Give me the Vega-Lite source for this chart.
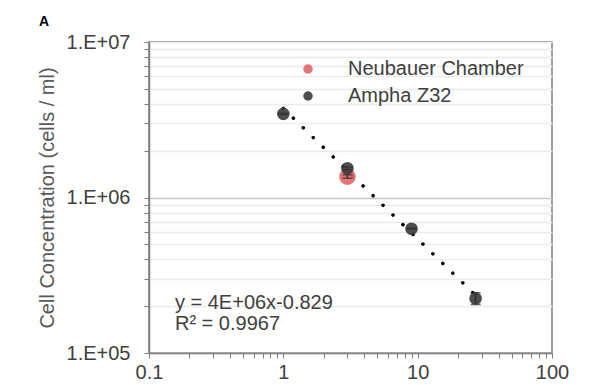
{
  "$schema": "https://vega.github.io/schema/vega-lite/v6.json",
  "width": 403,
  "height": 311,
  "autosize": "none",
  "padding": {"left": 149, "top": 42, "right": 48, "bottom": 32},
  "background": "white",
  "title": {"text": "A", "anchor": "start", "frame": "group", "dx": -110, "dy": 8, "offset": 0, "baseline": "alphabetic", "fontSize": 14, "fontWeight": "bold", "font": "Liberation Sans", "color": "#000000"},
  "config": {
    "view": {"stroke": "#7f7f7f", "strokeWidth": 1.5},
    "font": "Liberation Sans",
    "legend": {"orient": "none", "legendX": 149, "legendY": 17, "padding": 0, "labelFontSize": 20, "labelLimit": 400, "labelColor": "#404040", "labelFont": "Liberation Sans", "symbolSize": 90, "labelOffset": 30, "rowPadding": 7, "symbolType": "circle", "symbolStrokeWidth": 0, "title": null}
  },
  "datasets": {
    "points": [
      {"method": "Neubauer Chamber", "dilution": 3, "conc": 1.36e6, "lo": 1.33e6, "hi": 1.40e6},
      {"method": "Ampha Z32", "dilution": 1, "conc": 3.45e6, "lo": 3.42e6, "hi": 3.48e6},
      {"method": "Ampha Z32", "dilution": 3, "conc": 1.54e6, "lo": 1.51e6, "hi": 1.57e6},
      {"method": "Ampha Z32", "dilution": 9, "conc": 6.3e5, "lo": 6.25e5, "hi": 6.35e5},
      {"method": "Ampha Z32", "dilution": 27, "conc": 2.24e5, "lo": 2.05e5, "hi": 2.44e5}
    ],
    "trend": [
      {"dilution": 1, "conc": 3.74e6},
      {"dilution": 27, "conc": 2.35e5}
    ],
    "notes": [
      {"t": "y = 4E+06x-0.829", "dilution": 0.156, "conc": 210000},
      {"t": "R² = 0.9967", "dilution": 0.156, "conc": 154000}
    ]
  },
  "encoding": {
    "x": {"field": "dilution", "type": "quantitative",
      "scale": {"type": "log", "domain": [0.1, 100], "nice": false},
      "axis": {"title": null, "grid": false,
        "values": [0.1,0.2,0.3,0.4,0.5,0.6,0.7,0.8,0.9,1,2,3,4,5,6,7,8,9,10,20,30,40,50,60,70,80,90,100],
        "labelExpr": "datum.value == 0.1 ? '0.1' : datum.value == 1 ? '1' : datum.value == 10 ? '10' : datum.value == 100 ? '100' : ''",
        "labelFontSize": 20, "labelColor": "#404040", "labelPadding": 4, "labelFlush": false, "labelOverlap": false,
        "tickColor": "#7f7f7f", "tickSize": 5, "domainColor": "#7f7f7f", "domainWidth": 1.5}},
    "y": {"field": "conc", "type": "quantitative",
      "scale": {"type": "log", "domain": [1e5, 1e7], "nice": false},
      "axis": {"title": "Cell Concentration (cells / ml)", "titleFontSize": 20, "titleFontWeight": "normal", "titleColor": "#595959", "titlePadding": 9,
        "values": [1e5,2e5,3e5,4e5,5e5,6e5,7e5,8e5,9e5,1e6,2e6,3e6,4e6,5e6,6e6,7e6,8e6,9e6,1e7],
        "labelExpr": "datum.value == 1e5 ? '1.E+05' : datum.value == 1e6 ? '1.E+06' : datum.value == 1e7 ? '1.E+07' : ''",
        "labelFontSize": 20, "labelColor": "#404040", "labelPadding": 14, "labelOverlap": false, "labelFlush": false,
        "grid": true,
        "gridColor": {"condition": {"test": "datum.value == 1e6", "value": "#c8c8c8"}, "value": "#ebebeb"},
        "gridWidth": 1.5,
        "tickColor": "#7f7f7f", "tickSize": 5, "domainColor": "#7f7f7f", "domainWidth": 1.5}},
    "color": {"field": "method", "type": "nominal", "scale": {"domain": ["Neubauer Chamber", "Ampha Z32"], "range": ["#e06666", "#3a3a3a"]}, "legend": {"title": null}}
  },
  "layer": [
    {
      "data": {"name": "trend"},
      "mark": {"type": "line", "color": "#000000", "strokeWidth": 3.5, "strokeDash": [0.1, 13.8], "strokeCap": "round"},
      "encoding": {"color": {"value": "#000000"}}
    },
    {
      "data": {"name": "points"},
      "transform": [{"filter": "datum.method == 'Neubauer Chamber'"}],
      "mark": {"type": "circle", "opacity": 0.9, "size": 270}
    },
    {
      "data": {"name": "points"},
      "transform": [{"filter": "datum.method == 'Ampha Z32'"}],
      "mark": {"type": "circle", "opacity": 0.9, "size": 160}
    },
    {
      "data": {"name": "points"},
      "mark": {"type": "rule", "strokeWidth": 1.5},
      "encoding": {"y": {"field": "lo", "type": "quantitative"}, "y2": {"field": "hi"}, "color": {"value": "#303030"}}
    },
    {
      "data": {"name": "points"},
      "mark": {"type": "tick", "orient": "horizontal", "thickness": 1.5, "size": 10},
      "encoding": {"y": {"field": "lo", "type": "quantitative"}, "color": {"value": "#303030"}}
    },
    {
      "data": {"name": "points"},
      "mark": {"type": "tick", "orient": "horizontal", "thickness": 1.5, "size": 10},
      "encoding": {"y": {"field": "hi", "type": "quantitative"}, "color": {"value": "#303030"}}
    },
    {
      "data": {"name": "notes"},
      "mark": {"type": "text", "align": "left", "baseline": "middle", "fontSize": 20, "font": "Liberation Sans"},
      "encoding": {"text": {"field": "t"}, "color": {"value": "#404040"}}
    }
  ]
}
